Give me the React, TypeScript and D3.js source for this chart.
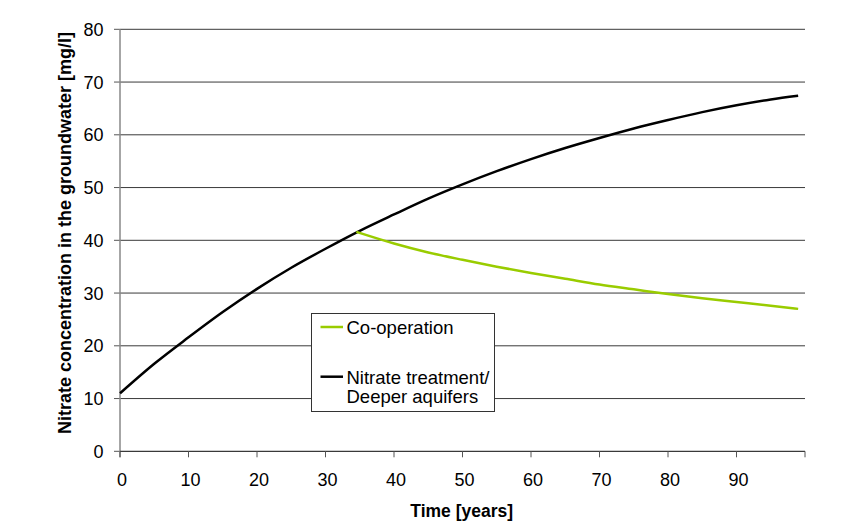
import React from "react";
import * as d3 from "d3";

const years = [0, 5, 10, 15, 20, 25, 30, 35, 40, 45, 50, 55, 60, 65, 70, 75, 80, 85, 90, 95, 99];
const treatment = [11, 16.6, 21.6, 26.4, 30.8, 34.8, 38.4, 41.8, 44.9, 47.9, 50.6, 53.1, 55.4, 57.5, 59.4, 61.2, 62.8, 64.3, 65.6, 66.7, 67.4];
const coopYears = [34.5, 40, 45, 50, 55, 60, 65, 70, 75, 80, 85, 90, 95, 99];
const cooperation = [41.6, 39.4, 37.7, 36.3, 35.0, 33.8, 32.7, 31.6, 30.7, 29.8, 29.0, 28.3, 27.6, 27.0];
const xTicks = [0, 10, 20, 30, 40, 50, 60, 70, 80, 90, 100];
const xTickLabels = ["0", "10", "20", "30", "40", "50", "60", "70", "80", "90", ""];
const yTicks = [0, 10, 20, 30, 40, 50, 60, 70, 80];
const seriesNames = ["Co-operation", "Nitrate treatment/", "Deeper aquifers"];

export default function App() {
  const W = 853, H = 531;
  const x = d3.scaleLinear().domain([0, 100]).range([120, 805]);
  const y = d3.scaleLinear().domain([0, 80]).range([451.3, 29.3]);
  const line = d3.line<[number, number]>().x(d => x(d[0])).y(d => y(d[1])).curve(d3.curveMonotoneX);
  const blackPts = years.map((t, i) => [t, treatment[i]] as [number, number]);
  const greenPts = coopYears.map((t, i) => [t, cooperation[i]] as [number, number]);
  const font = "Arial, 'Liberation Sans', sans-serif";
  return (
    <svg width={W} height={H} style={{ position: "absolute", left: 0, top: 0, background: "#fff" }} fontFamily={font}>
      <rect width={W} height={H} fill="#fff" />
      {yTicks.filter(v => v > 0).map(v => (
        <line key={"g" + v} x1={x(0)} x2={x(100)} y1={y(v)} y2={y(v)} stroke="#3a3a3a" strokeWidth={1} />
      ))}
      {yTicks.map(v => (
        <g key={"yt" + v}>
          <line x1={x(0) - 6} x2={x(0)} y1={y(v)} y2={y(v)} stroke="#555" strokeWidth={1} />
          <text x={103.5} y={y(v)} dy="0.36em" textAnchor="end" fontSize={18} fill="#000">{v}</text>
        </g>
      ))}
      <line x1={x(0)} x2={x(0)} y1={y(80)} y2={y(0) + 6} stroke="#888" strokeWidth={1.5} />
      <line x1={x(0)} x2={x(100)} y1={y(0)} y2={y(0)} stroke="#3a3a3a" strokeWidth={1.2} />
      {xTicks.map((v, i) => (
        <g key={"xt" + v}>
          <line x1={x(v)} x2={x(v)} y1={y(0)} y2={y(0) + 6} stroke="#555" strokeWidth={1} />
          <text x={x(v) + 2} y={486} textAnchor="middle" fontSize={18} fill="#000">{xTickLabels[i]}</text>
        </g>
      ))}
      <path d={line(blackPts) || ""} fill="none" stroke="#000" strokeWidth={2.5} />
      <path d={line(greenPts) || ""} fill="none" stroke="#99cc00" strokeWidth={2.5} />
      <g>
        <rect x={311.5} y={313.5} width={183} height={98} fill="#fff" stroke="#333" strokeWidth={1} />
        <line x1={320.5} x2={343} y1={327} y2={327} stroke="#99cc00" strokeWidth={2.5} />
        <text x={346.5} y={334} fontSize={18.5} fill="#000">{seriesNames[0]}</text>
        <line x1={320.5} x2={343} y1={376.7} y2={376.7} stroke="#000" strokeWidth={2.5} />
        <text x={346.5} y={383.5} fontSize={18.5} fill="#000">{seriesNames[1]}</text>
        <text x={346.5} y={402.5} fontSize={18.5} fill="#000">{seriesNames[2]}</text>
      </g>
      <text x={461.7} y={517.3} textAnchor="middle" fontSize={17.5} fontWeight="bold" fill="#000">Time [years]</text>
      <text transform={`translate(70.5,233) rotate(-90)`} textAnchor="middle" fontSize={18} fontWeight="bold" fill="#000">
        Nitrate concentration in the groundwater [mg/l]
      </text>
    </svg>
  );
}
